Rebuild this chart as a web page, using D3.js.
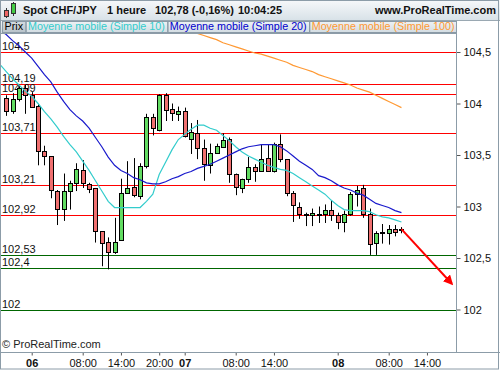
<!DOCTYPE html>
<html>
<head>
<meta charset="utf-8">
<script src="https://cdn.jsdelivr.net/npm/d3@7"></script>
<style>
body { margin: 0; background: #fff; }
svg { display: block; font-family: "Liberation Sans", Arial, sans-serif; }
</style>
</head>
<body>
<svg width="500" height="370"></svg>
<script>
// hourly candles, hour 0 = day 06 00:00
var hours = [-4,-3,-2,-1,0,1,2,3,4,5,6,7,8,9,10,11,12,13,14,15,16,17,18,19,20,21,22,23,24,25,26,27,28,29,30,
  31,32,33,34,35,36,37,38,39,40,41,42,43,44,45,46,47,48,49,50,51,52,53,54,55,56,57,58];
var opens = [104.05,103.93,104.04,104.15,104.08,103.98,103.54,103.49,103.15,102.98,103.15,103.23,103.35,103.22,103.18,
  102.76,102.66,102.56,102.67,103.13,103.19,103.10,103.39,103.87,103.74,104.08,103.95,103.90,103.93,103.66,103.71,
  103.57,103.40,103.52,103.58,103.66,103.32,103.18,103.27,103.38,103.34,103.47,103.34,103.61,103.46,103.13,103.00,
  102.93,102.92,102.93,102.93,102.97,102.92,102.85,102.93,103.12,103.18,102.93,102.65,102.74,102.74,102.78,102.77];
var highs = [104.08,104.10,104.17,104.18,104.11,103.99,103.59,103.49,103.16,103.32,103.25,103.42,103.45,103.23,103.18,
  102.76,102.70,102.89,103.27,103.44,103.47,103.42,103.90,103.90,104.09,104.10,104.00,103.97,103.96,103.81,103.84,
  103.65,103.61,103.61,103.71,103.67,103.32,103.27,103.48,103.41,103.60,103.60,103.62,103.70,103.46,103.15,103.04,
  102.94,102.98,103.00,103.02,103.06,102.94,102.96,103.14,103.20,103.21,102.98,102.76,102.83,102.82,102.82,102.80];
var lows = [103.88,103.90,104.02,103.90,103.97,103.40,103.40,103.08,102.82,102.86,102.97,103.15,103.18,103.13,102.65,
  102.42,102.39,102.54,102.67,103.13,103.09,103.07,103.37,103.69,103.73,103.83,103.83,103.83,103.67,103.51,103.46,
  103.25,103.32,103.51,103.58,103.23,103.11,103.13,103.23,103.24,103.34,103.34,103.33,103.43,103.10,102.85,102.88,
  102.81,102.81,102.84,102.84,102.86,102.78,102.75,102.91,103.00,102.89,102.53,102.53,102.64,102.63,102.71,102.74];
var closes = [103.93,104.04,104.15,104.08,103.97,103.54,103.49,103.16,102.98,103.15,103.23,103.36,103.23,103.17,102.76,
  102.65,102.56,102.66,103.13,103.18,103.11,103.39,103.87,103.76,104.08,103.94,103.91,103.93,103.68,103.72,103.57,
  103.41,103.52,103.59,103.65,103.32,103.19,103.27,103.38,103.34,103.46,103.34,103.61,103.46,103.13,103.01,102.93,
  102.92,102.94,102.92,102.97,102.92,102.85,102.93,103.12,103.16,102.93,102.64,102.74,102.75,102.78,102.75,102.78];

// moving averages
var maHours = [-5].concat(hours);
var sma10 = [104.38,104.31,104.24,104.18,104.12,104.07,104.00,103.92,103.85,103.77,103.68,103.60,103.53,103.44,103.35,
  103.25,103.15,103.05,102.99,102.99,102.99,102.99,102.99,103.05,103.12,103.31,103.43,103.55,103.65,103.70,103.75,
  103.79,103.79,103.76,103.74,103.69,103.64,103.58,103.53,103.49,103.46,103.43,103.40,103.38,103.36,103.35,103.32,
  103.28,103.24,103.20,103.16,103.12,103.06,103.01,102.97,102.96,102.96,102.96,102.95,102.92,102.90,102.89,102.87,102.85];
var sma20 = [104.71,104.67,104.61,104.56,104.50,104.44,104.36,104.28,104.21,104.11,104.02,103.94,103.88,103.83,103.76,
  103.67,103.58,103.48,103.40,103.35,103.32,103.28,103.26,103.23,103.22,103.22,103.24,103.27,103.29,103.32,103.34,
  103.37,103.39,103.41,103.44,103.47,103.50,103.53,103.56,103.58,103.59,103.60,103.60,103.60,103.58,103.54,103.49,
  103.44,103.40,103.36,103.30,103.28,103.25,103.21,103.18,103.16,103.13,103.11,103.07,103.03,103.01,102.99,102.96,102.94];
var sma100Hours = hours.slice(24);
var sma100 = [104.81,104.79,104.76,104.74,104.72,104.70,104.68,104.66,104.64,104.62,104.59,104.57,104.55,104.53,104.51,
  104.49,104.48,104.46,104.44,104.42,104.40,104.37,104.35,104.33,104.31,104.28,104.26,104.24,104.22,104.20,104.18,
  104.15,104.13,104.11,104.08,104.05,104.02,103.99,103.96];

var resistances = [104.5, 104.19, 104.09, 103.71, 103.21, 102.92];
var supports = [102.53, 102.4, 102];
var priceTicks = [104.5, 104, 103.5, 103, 102.5, 102];
var timeTicks = [0, 8, 14, 20, 24, 32, 38, 48, 56, 62];
var timeLabels = ['06', '08:00', '14:00', '20:00', '07', '08:00', '14:00', '08', '08:00', '14:00'];
var arrowFrom = [58, 102.78];
var arrowTo = [65.9, 102.25];

var legendNames = ['Prix', 'Moyenne mobile (Simple 10)', 'Moyenne mobile (Simple 20)', 'Moyenne mobile (Simple 100)'];
var legendColors = ['#000', '#33cccc', '#0000cc', '#ff9933'];

var svg = d3.select('svg');
var defs = svg.append('defs');
var plotR = 456, plotT = 33, plotB = 352;

function vgrad(id, c0, c1) {
	var g = defs.append('linearGradient').attr('id', id).attr('x1', 0).attr('x2', 0).attr('y1', 0).attr('y2', 1);
	g.append('stop').attr('offset', '0%').attr('stop-color', c0);
	g.append('stop').attr('offset', '100%').attr('stop-color', c1);
}
vgrad('head', '#f6f8fa', '#d8e2e8');
vgrad('leg', '#eef2f5', '#d2dce2');
vgrad('prix', '#d4dbe0', '#b8c3ca');

defs.append('clipPath').attr('id', 'plot')
	.append('rect').attr('x', 1).attr('y', plotT + 0.5).attr('width', plotR - 1).attr('height', plotB - plotT - 0.5);

defs.append('marker').attr('id', 'head-arrow')
	.attr('viewBox', '0 0 10 10').attr('refX', 8).attr('refY', 5)
	.attr('markerWidth', 5).attr('markerHeight', 5).attr('orient', 'auto')
	.append('path').attr('d', 'M0,0L10,5L0,10z').attr('fill', '#ff0000');

var x = d3.scaleLinear().domain([0, 64]).range([31.7, 31.7 + 64 * 6.375]);
var y = d3.scaleLinear().domain([102, 104.5]).range([309.5, 52]);
var fmt = function(v) { return String(v).replace('.', ','); };

// header
svg.append('rect').attr('width', 500).attr('height', 20).attr('fill', 'url(#head)');
svg.append('line').attr('x1', 0).attr('x2', 500).attr('y1', 20.5).attr('y2', 20.5).attr('stroke', '#9aa8b2');

var icon = svg.append('g').attr('stroke', '#333').attr('stroke-width', 1);
icon.append('line').attr('x1', 6.5).attr('x2', 6.5).attr('y1', 8).attr('y2', 18);
icon.append('rect').attr('x', 4.5).attr('y', 10.5).attr('width', 4).attr('height', 6).attr('fill', '#ee6666');
icon.append('line').attr('x1', 13.5).attr('x2', 13.5).attr('y1', 2).attr('y2', 16);
icon.append('rect').attr('x', 11.5).attr('y', 3.5).attr('width', 4).attr('height', 10).attr('fill', '#44cc44');

var title = svg.append('g').attr('font-size', 11).attr('font-weight', 'bold').attr('fill', '#111');
[['Spot CHF/JPY', 23], ['1 heure', 107], ['102,78 (-0,16%)', 155], ['10:04:25', 238]].forEach(function(t) {
	title.append('text').attr('x', t[1]).attr('y', 14).text(t[0]);
});
title.append('text').attr('x', 496).attr('y', 14).attr('text-anchor', 'end').text('www.ProRealTime.com');

// legend row
svg.append('rect').attr('x', 0).attr('y', 21).attr('width', plotR).attr('height', plotT - 21).attr('fill', 'url(#leg)');
var lx = 2;
legendNames.forEach(function(name, i) {
	var g = svg.append('g');
	var box = g.append('rect').attr('y', 21.5).attr('height', plotT - 22)
		.attr('fill', i === 0 ? 'url(#prix)' : 'none').attr('stroke', '#8a9aa6');
	var t = g.append('text').attr('x', lx + 2.5).attr('y', 30).attr('font-size', 10.75)
		.attr('fill', legendColors[i]).text(name);
	var w = Math.min(t.node().getComputedTextLength() + 5, plotR - lx);
	box.attr('x', lx + 0.5).attr('width', w);
	lx += w;
});

// plot
var plot = svg.append('g').attr('clip-path', 'url(#plot)');

plot.selectAll('.res').data(resistances).join('line')
	.attr('x1', 0).attr('x2', plotR)
	.attr('y1', function(d) { return Math.round(y(d)) + 0.5; })
	.attr('y2', function(d) { return Math.round(y(d)) + 0.5; })
	.attr('stroke', '#ff0000');
plot.selectAll('.sup').data(supports).join('line')
	.attr('x1', 0).attr('x2', plotR)
	.attr('y1', function(d) { return Math.round(y(d)) + 0.5; })
	.attr('y2', function(d) { return Math.round(y(d)) + 0.5; })
	.attr('stroke', '#006600');

plot.selectAll('.lvl').data(resistances.concat(supports)).join('text')
	.attr('x', 2).attr('y', function(d) { return Math.round(y(d)) - 2; })
	.attr('font-size', 11).attr('fill', '#111').text(fmt);

var candles = plot.append('g');
hours.forEach(function(h, i) {
	var cx = Math.round(x(h)) + 0.5;
	var o = opens[i], c = closes[i];
	candles.append('line').attr('x1', cx).attr('x2', cx)
		.attr('y1', y(highs[i])).attr('y2', y(lows[i])).attr('stroke', '#000');
	var top = Math.round(y(Math.max(o, c))), bot = Math.round(y(Math.min(o, c)));
	candles.append('rect').attr('x', cx - 2).attr('y', top + 0.5)
		.attr('width', 4).attr('height', Math.max(bot - top, 1))
		.attr('fill', c > o ? '#62dc62' : (c < o ? '#f07070' : '#000'))
		.attr('stroke', '#000');
});

var line = function(hs) {
	return d3.line().x(function(d, i) { return x(hs[i]); }).y(function(d) { return y(d); });
};
plot.append('path').attr('d', line(maHours)(sma10)).attr('fill', 'none').attr('stroke', '#33cccc').attr('stroke-width', 1.2);
plot.append('path').attr('d', line(maHours)(sma20)).attr('fill', 'none').attr('stroke', '#1a1acc').attr('stroke-width', 1.2);
plot.append('path').attr('d', line(sma100Hours)(sma100)).attr('fill', 'none').attr('stroke', '#ff9933').attr('stroke-width', 1.2);

plot.append('line')
	.attr('x1', x(arrowFrom[0])).attr('y1', y(arrowFrom[1]))
	.attr('x2', x(arrowTo[0])).attr('y2', y(arrowTo[1]))
	.attr('stroke', '#ff0000').attr('stroke-width', 2).attr('marker-end', 'url(#head-arrow)');

svg.append('text').attr('x', 2).attr('y', 348).attr('font-size', 11).attr('fill', '#222').text('\u00a9 ProRealTime.com');

// axes
var right = svg.append('g').attr('transform', 'translate(' + (plotR + 0.5) + ',0)')
	.call(d3.axisRight(y).tickValues(priceTicks).tickSize(4).tickPadding(3).tickFormat(fmt));
right.select('.domain').remove();
right.selectAll('line').attr('stroke', '#555');
right.selectAll('text').attr('font-size', 11).attr('fill', '#111').attr('font-family', null);

var bottom = svg.append('g').attr('transform', 'translate(0,' + (plotB + 0.5) + ')')
	.call(d3.axisBottom(x).tickValues(timeTicks).tickSize(3).tickPadding(4)
		.tickFormat(function(d, i) { return timeLabels[i]; }));
bottom.select('.domain').remove();
bottom.selectAll('line').attr('stroke', '#555');
bottom.selectAll('text').attr('font-size', 11).attr('fill', '#111').attr('font-family', null)
	.attr('font-weight', function(d, i) { return timeLabels[i].indexOf(':') < 0 ? 'bold' : 'normal'; });

// frame
var frame = svg.append('g').attr('stroke', '#8c9ca8').attr('fill', 'none');
frame.append('line').attr('x1', 0).attr('x2', 500).attr('y1', plotB + 0.5).attr('y2', plotB + 0.5);
frame.append('line').attr('x1', plotR + 0.5).attr('x2', plotR + 0.5).attr('y1', 21).attr('y2', plotB);
frame.append('line').attr('x1', 0).attr('x2', plotR).attr('y1', plotT + 0.5).attr('y2', plotT + 0.5);
frame.append('rect').attr('x', 0.5).attr('y', 0.5).attr('width', 498).attr('height', 368.5);
</script>
</body>
</html>
